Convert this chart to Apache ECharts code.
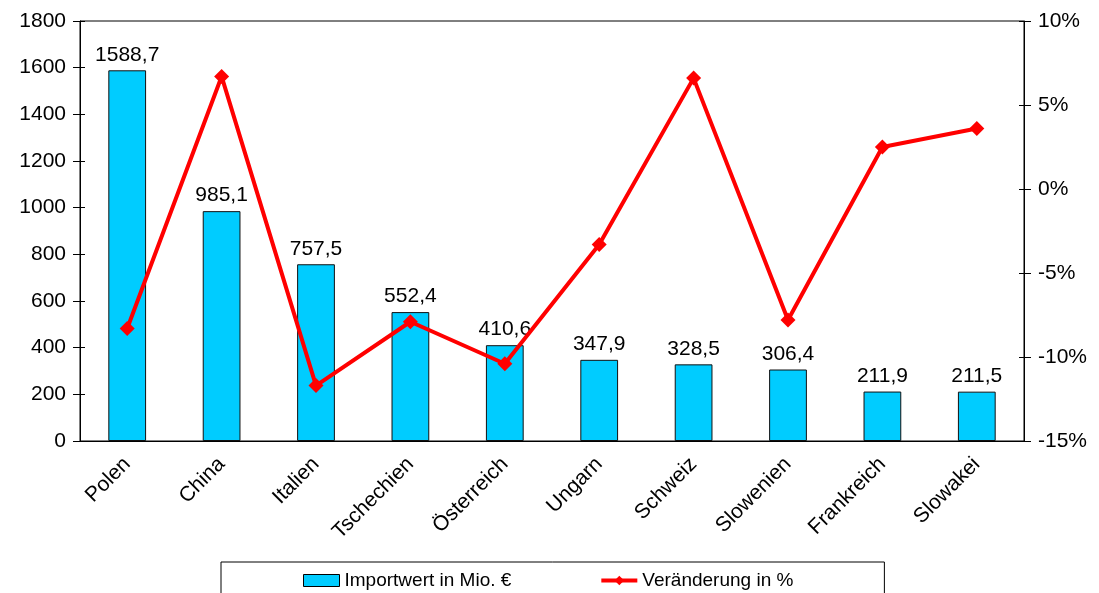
<!DOCTYPE html>
<html>
<head>
<meta charset="utf-8">
<script src="https://cdn.jsdelivr.net/npm/echarts@6/dist/echarts.min.js"></script>
<style>
  html, body { margin: 0; padding: 0; background: #fff; }
  #chart { width: 1099px; height: 593px; }
</style>
</head>
<body>
<div id="chart"></div>
<script>
const countries = ['Polen', 'China', 'Italien', 'Tschechien', 'Österreich', 'Ungarn', 'Schweiz', 'Slowenien', 'Frankreich', 'Slowakei'];
const importValues = [1588.7, 985.1, 757.5, 552.4, 410.6, 347.9, 328.5, 306.4, 211.9, 211.5];
const changePct = [-8.3, 6.7, -11.7, -7.9, -10.4, -3.3, 6.6, -7.8, 2.5, 3.6];

const font = 'Liberation Sans, Arial, sans-serif';
const chart = echarts.init(document.getElementById('chart'));

const comma = v => String(v).replace('.', ',');

chart.setOption({
  animation: false,
  textStyle: { fontFamily: font, color: '#000' },
  grid: {
    left: 80, right: 75, top: 21, bottom: 152,
    show: true, borderColor: '#000', borderWidth: 1
  },
  legend: {
    left: 221, top: 562,
    padding: [9, 91, 20, 82],
    borderColor: '#000', borderWidth: 1,
    itemGap: 88, itemWidth: 36, itemHeight: 12,
    textStyle: { fontFamily: font, fontSize: 19, color: '#000' },
    data: [
      { name: 'Importwert in Mio. €', icon: 'rect', itemStyle: { borderColor: '#000', borderWidth: 1 } },
      { name: 'Veränderung in %', lineStyle: { width: 4, color: '#FF0000' } }
    ]
  },
  xAxis: [
    {
      type: 'category', data: countries,
      axisLine: { lineStyle: { color: '#000' } },
      axisTick: { length: 8, lineStyle: { color: '#000' } },
      axisLabel: { rotate: 45, fontSize: 21, color: '#000', fontFamily: font, margin: 20 }
    },
    {
      type: 'category', data: countries, position: 'bottom',
      axisLine: { show: false },
      axisTick: { inside: true, length: 6, lineStyle: { color: '#000' } },
      axisLabel: { show: false }
    }
  ],
  yAxis: [
    {
      type: 'value', min: 0, max: 1800, interval: 200,
      axisLine: { show: true, lineStyle: { color: '#000' } },
      axisTick: { show: true, length: 7, lineStyle: { color: '#000' } },
      axisLabel: { fontSize: 21, color: '#000', fontFamily: font, margin: 14, formatter: v => String(v) },
      splitLine: { show: false }
    },
    {
      type: 'value', min: -15, max: 10, interval: 5, position: 'right',
      axisLine: { show: true, lineStyle: { color: '#000' } },
      axisTick: { show: true, length: 7, lineStyle: { color: '#000' } },
      axisLabel: { fontSize: 21, color: '#000', fontFamily: font, margin: 14, formatter: '{value}%' },
      splitLine: { show: false }
    },
    {
      type: 'value', min: 0, max: 1800, interval: 200, position: 'left',
      axisLine: { show: false },
      axisTick: { show: true, inside: true, length: 5, lineStyle: { color: '#000' } },
      axisLabel: { show: false }, splitLine: { show: false }
    },
    {
      type: 'value', min: -15, max: 10, interval: 5, position: 'right',
      axisLine: { show: false },
      axisTick: { show: true, inside: true, length: 5, lineStyle: { color: '#000' } },
      axisLabel: { show: false }, splitLine: { show: false }
    }
  ],
  series: [
    {
      name: 'Importwert in Mio. €',
      type: 'bar',
      data: importValues,
      barWidth: '40%',
      itemStyle: { color: '#00CCFF', borderColor: '#111', borderWidth: 1 },
      label: {
        show: true, position: 'top', distance: 5,
        fontSize: 21, color: '#000', fontFamily: font,
        formatter: p => comma(p.value)
      }
    },
    {
      name: 'Veränderung in %',
      type: 'line',
      yAxisIndex: 1,
      data: changePct,
      symbol: 'diamond',
      symbolSize: 15,
      lineStyle: { color: '#FF0000', width: 4 },
      itemStyle: { color: '#FF0000' }
    }
  ]
});
</script>
</body>
</html>
